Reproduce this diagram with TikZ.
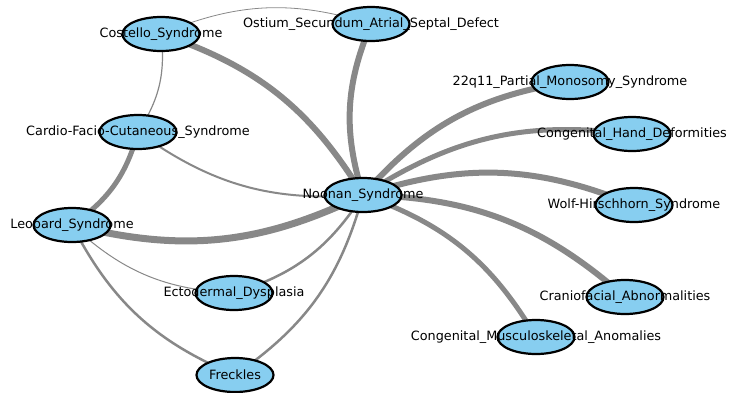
\documentclass[tikz,border=0pt]{standalone}
\usepackage{fontspec}
\setmainfont{DejaVu Sans}
\usetikzlibrary{shapes.geometric,backgrounds}
\definecolor{nodeblue}{RGB}{135,206,240}
\definecolor{edgegray}{RGB}{136,136,136}
\tikzset{
  disease/.style={ellipse,draw=black,line width=2.2pt,fill=nodeblue,
    minimum width=77pt,minimum height=34pt,inner sep=0pt},
  link/.style={draw=edgegray,bend left=20}
}
\begin{document}
\begin{tikzpicture}[x=1pt,y=-1pt,font=\fontsize{12.8}{14}\selectfont]
\useasboundingbox (0,0) rectangle (729,392);

% diseases
\node[disease,label={center:Noonan\_Syndrome}] (noonan) at (363,195) {};
\node[disease,label={center:Costello\_Syndrome}] (costello) at (161,34) {};
\node[disease,label={center:Ostium\_Secundum\_Atrial\_Septal\_Defect}] (ostium) at (371,24) {};
\node[disease,label={center:22q11\_Partial\_Monosomy\_Syndrome}] (partial) at (570,82) {};
\node[disease,label={center:Congenital\_Hand\_Deformities}] (hand) at (632,134) {};
\node[disease,label={center:Wolf-Hirschhorn\_Syndrome}] (wolf) at (634,205) {};
\node[disease,label={center:Cardio-Facio-Cutaneous\_Syndrome}] (cardio) at (138,132) {};
\node[disease,label={center:Leopard\_Syndrome}] (leopard) at (72,225) {};
\node[disease,label={center:Ectodermal\_Dysplasia}] (ecto) at (234,293) {};
\node[disease,label={center:Freckles}] (freckles) at (235,375) {};
\node[disease,label={center:Craniofacial\_Abnormalities}] (cranio) at (625,297) {};
\node[disease,label={center:Congenital\_Musculoskeletal\_Anomalies}] (musculo) at (536,337) {};

% links
\begin{scope}[on background layer]
\foreach \a/\b/\w in {costello/ostium/0.8, costello/cardio/1.2, costello/noonan/6,
  noonan/ostium/6, noonan/partial/6, noonan/hand/5, noonan/wolf/6,
  noonan/cranio/6, noonan/musculo/5, noonan/cardio/2, cardio/leopard/5,
  noonan/leopard/7, ecto/leopard/1, freckles/leopard/2.5,
  noonan/ecto/2.5, noonan/freckles/2.5}
  \draw[link,line width=\w pt] (\a.center) to (\b.center);
\end{scope}

\end{tikzpicture}
\end{document}
